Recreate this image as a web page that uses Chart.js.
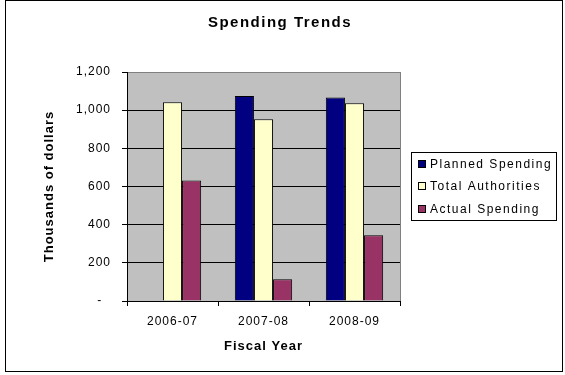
<!DOCTYPE html>
<html>
<head>
<meta charset="utf-8">
<script src="https://cdn.jsdelivr.net/npm/chart.js@4.4.0/dist/chart.umd.min.js"></script>
<style>
  html, body { margin: 0; padding: 0; background: #fff; }
  #wrap { width: 565px; height: 375px; }
</style>
</head>
<body>
<div id="wrap"><canvas id="chart" width="565" height="375"></canvas></div>
<script>
'use strict';

const fiscalYears = ['2006-07', '2007-08', '2008-09'];
const plannedSpending = [null, 1074, 1067]; // no planned bar for 2006-07
const totalAuthorities = [1041, 952, 1036];
const actualSpending = [632, 114, 344];
const yTicks = [0, 200, 400, 600, 800, 1000, 1200];
const chartTitle = 'Spending Trends';

const FONT = '"Liberation Sans", Arial, sans-serif';

// excel look: grey plot, outer frame, title, boxed legend
const excelLook = {
  id: 'excelLook',
  beforeUpdate(chart) {
    chart.ctx.letterSpacing = '1px';
  },
  beforeDraw(chart) {
    const ctx = chart.ctx;
    const a = chart.chartArea;
    ctx.save();
    ctx.fillStyle = '#fff';
    ctx.fillRect(0, 0, chart.width, chart.height);
    ctx.fillStyle = '#c0c0c0';
    ctx.fillRect(a.left, a.top, a.right - a.left, a.bottom - a.top);
    ctx.restore();
    ctx.letterSpacing = '1px';
  },
  afterDraw(chart) {
    const ctx = chart.ctx;
    const a = chart.chartArea;
    ctx.save();
    // right edge of plot
    ctx.strokeStyle = '#808080';
    ctx.lineWidth = 1;
    ctx.beginPath();
    ctx.moveTo(Math.round(a.right) + 0.5, a.top);
    ctx.lineTo(Math.round(a.right) + 0.5, a.bottom);
    ctx.stroke();
    // outer frame
    ctx.strokeStyle = '#000';
    ctx.strokeRect(5.5, 0.5, 557, 371);
    // title
    ctx.fillStyle = '#000';
    ctx.font = 'bold 15px ' + FONT;
    ctx.letterSpacing = '1.5px';
    ctx.textAlign = 'center';
    ctx.textBaseline = 'middle';
    ctx.fillText(chartTitle, 280, 23);
    // legend
    ctx.strokeRect(411.5, 152.5, 145, 68);
    ctx.font = '12px ' + FONT;
    ctx.textAlign = 'left';
    ctx.letterSpacing = '1.5px';
    const rows = [164, 186, 209];
    chart.data.datasets.forEach((ds, i) => {
      const y = rows[i];
      ctx.fillStyle = ds.backgroundColor;
      ctx.fillRect(418.5, y - 3.5, 7, 7);
      ctx.strokeStyle = '#000';
      ctx.strokeRect(418.5, y - 3.5, 7, 7);
      ctx.fillStyle = '#000';
      ctx.fillText(ds.label, 430, y + 1);
    });
    ctx.restore();
  }
};

const canvasEl = document.getElementById('chart');

new Chart(canvasEl, {
  type: 'bar',
  data: {
    labels: fiscalYears,
    datasets: [{
      label: 'Planned Spending',
      data: plannedSpending,
      backgroundColor: '#000080',
    }, {
      label: 'Total Authorities',
      data: totalAuthorities,
      backgroundColor: '#ffffcc',
    }, {
      label: 'Actual Spending',
      data: actualSpending,
      backgroundColor: '#993366',
    }]
  },
  options: {
    responsive: false,
    animation: false,
    devicePixelRatio: 1,
    layout: { padding: { left: 0, right: 165, top: 72, bottom: 0 } },
    datasets: {
      bar: {
        borderColor: '#000',
        borderWidth: 1,
        categoryPercentage: 0.63,
        barPercentage: 1,
      }
    },
    plugins: {
      legend: { display: false },
      tooltip: { enabled: false },
      title: { display: false }
    },
    scales: {
      x: {
        grid: {
          display: true,
          drawOnChartArea: false,
          drawTicks: true,
          tickLength: 5,
          color: '#000',
          offset: true
        },
        border: { color: '#000', width: 1 },
        ticks: {
          color: '#000',
          padding: 8,
          font: { family: FONT, size: 12 }
        },
        title: {
          display: true,
          text: 'Fiscal Year',
          color: '#000',
          font: { family: FONT, size: 13, weight: 'bold' },
          padding: { top: 0, bottom: 21 }
        },
        afterFit(scale) { scale.height = 74; }
      },
      y: {
        min: 0,
        max: 1200,
        afterBuildTicks(scale) {
          scale.ticks = yTicks.map(v => ({ value: v }));
        },
        grid: {
          color: ctx => (ctx.tick && ctx.tick.value === 1200 ? '#808080' : '#000'),
          tickColor: '#000',
          tickLength: 5,
          drawTicks: true
        },
        border: { color: '#000', width: 1 },
        ticks: {
          color: '#000',
          padding: 11,
          font: { family: FONT, size: 12 },
          callback: v => (v === 0 ? '-  ' : v.toLocaleString('en-US'))
        },
        title: {
          display: true,
          text: 'Thousands of dollars',
          color: '#000',
          font: { family: FONT, size: 13, weight: 'bold' },
          padding: { top: 42, bottom: 0 }
        },
        afterFit(scale) { scale.width = 127; }
      }
    }
  },
  plugins: [excelLook]
});
</script>
</body>
</html>
